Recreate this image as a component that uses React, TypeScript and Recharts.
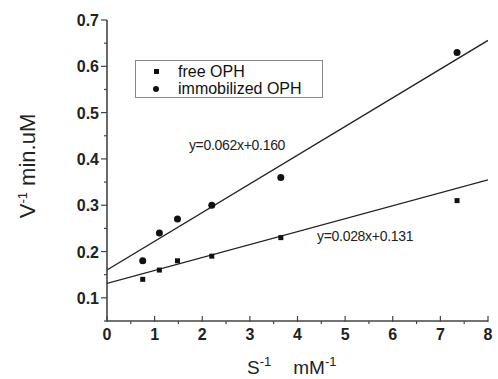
import React from 'react'
import { ComposedChart, Scatter, XAxis, YAxis, ReferenceDot } from 'recharts'

const FONT = '"Liberation Sans", Arial, sans-serif'

// 1/[S] in mM^-1
const sInv = [0.75, 1.1, 1.48, 2.2, 3.65, 7.35]
const freeOPH = [0.14, 0.16, 0.18, 0.19, 0.23, 0.31]
const immobilizedOPH = [0.18, 0.24, 0.27, 0.3, 0.36, 0.63]

// fitted lines, read at x = 0 and x = 8
const fitX = [0, 8]
const fitFree = [0.131, 0.355]
const fitImmobilized = [0.16, 0.656]

const xTicks = [0, 0.5, 1, 1.5, 2, 2.5, 3, 3.5, 4, 4.5, 5, 5.5, 6, 6.5, 7, 7.5, 8]
const xMajor = [0, 1, 2, 3, 4, 5, 6, 7, 8]
const yTicks = [0.05, 0.1, 0.15, 0.2, 0.25, 0.3, 0.35, 0.4, 0.45, 0.5, 0.55, 0.6, 0.65, 0.7]
const yMajor = ['0.1', '0.2', '0.3', '0.4', '0.5', '0.6', '0.7']

const toPoints = (xs: number[], ys: number[]) => xs.map((x, i) => ({ x, y: ys[i] }))

const freeData = toPoints(sInv, freeOPH)
const immData = toPoints(sInv, immobilizedOPH)
const freeFit = toPoints(fitX, fitFree)
const immFit = toPoints(fitX, fitImmobilized)

const AXIS = '#444'

function XTick(props: any) {
  const { x, y, payload } = props
  const major = xMajor.includes(payload.value)
  return (
    <g>
      <line x1={x} x2={x} y1={major ? y - 5 : y} y2={y + (major ? 1 : 3)} stroke={AXIS} strokeWidth={1.2} />
      {major && (
        <text x={x} y={y + 19} textAnchor="middle" fontFamily={FONT} fontSize={16} fontWeight="bold" fill="#222">
          {payload.value}
        </text>
      )}
    </g>
  )
}

function YTick(props: any) {
  const { x, y, payload } = props
  const txt = payload.value.toFixed(2)
  const label = txt.replace(/0$/, '')
  const major = txt.endsWith('0') && yMajor.includes(label)
  return (
    <g>
      <line x1={x - (major ? 6 : 3)} x2={x} y1={y} y2={y} stroke={AXIS} strokeWidth={1.2} />
      {major && (
        <text x={x - 8} y={y + 6} textAnchor="end" fontFamily={FONT} fontSize={16} fontWeight="bold" fill="#222">
          {label}
        </text>
      )}
    </g>
  )
}

const Square = (p: any) => <rect x={p.cx - 2.5} y={p.cy - 2.5} width={5} height={5} fill="#111" />
const Dot = (p: any) => <circle cx={p.cx} cy={p.cy} r={3.5} fill="#111" />
const NoShape = () => null

export default function App() {
  return (
    <div style={{ position: 'absolute', left: 0, top: 0, width: 498, height: 379, background: '#fff' }}>
      <ComposedChart width={498} height={379} margin={{ top: 20, right: 10, bottom: 0, left: 0 }}>
        <XAxis
          type="number"
          dataKey="x"
          domain={[0, 8]}
          ticks={xTicks}
          interval={0}
          height={58}
          tickSize={0}
          tickMargin={0}
          tickLine={false}
          axisLine={{ stroke: AXIS, strokeWidth: 1.6 }}
          tick={<XTick />}
          allowDataOverflow
          label={() => (
            <text x={247} y={374} fontFamily={FONT} fontSize={19} fill="#222">
              S<tspan dy={-8} fontSize={13}>-1</tspan>
              <tspan dx={22} dy={8}>mM</tspan>
              <tspan dy={-8} fontSize={13}>-1</tspan>
            </text>
          )}
        />
        <YAxis
          type="number"
          dataKey="y"
          domain={[0.05, 0.7]}
          ticks={yTicks}
          interval={0}
          width={107}
          tickSize={0}
          tickMargin={0}
          tickLine={false}
          axisLine={{ stroke: AXIS, strokeWidth: 1.6 }}
          tick={<YTick />}
          allowDataOverflow
          label={() => (
            <text
              x={35}
              y={166}
              transform="rotate(-90 35 166)"
              textAnchor="middle"
              fontFamily={FONT}
              fontSize={22}
              fill="#222"
            >
              V<tspan dy={-8} fontSize={13}>-1</tspan>
              <tspan dy={8}>{' min.uM'}</tspan>
            </text>
          )}
        />
        <Scatter data={immFit} line={{ stroke: '#222', strokeWidth: 1.3 }} shape={<NoShape />} isAnimationActive={false} />
        <Scatter data={freeFit} line={{ stroke: '#222', strokeWidth: 1.3 }} shape={<NoShape />} isAnimationActive={false} />
        <Scatter data={freeData} shape={<Square />} isAnimationActive={false} />
        <Scatter data={immData} shape={<Dot />} isAnimationActive={false} />
        <ReferenceDot
          x={2.73}
          y={0.43}
          r={0}
          stroke="none"
          label={{ value: 'y=0.062x+0.160', position: 'center', fontFamily: FONT, fontSize: 14, fill: '#222', letterSpacing: -0.3 }}
        />
        <ReferenceDot
          x={5.42}
          y={0.234}
          r={0}
          stroke="none"
          label={{ value: 'y=0.028x+0.131', position: 'center', fontFamily: FONT, fontSize: 14, fill: '#222', letterSpacing: -0.3 }}
        />
      </ComposedChart>
      <div
        style={{
          position: 'absolute',
          left: 135,
          top: 60,
          width: 188,
          height: 38,
          border: '1px solid #888',
          fontFamily: FONT,
          fontSize: 16,
          color: '#111',
          lineHeight: '17px',
          paddingTop: 2,
          boxSizing: 'border-box',
        }}
      >
        <div style={{ display: 'flex', alignItems: 'center' }}>
          <span style={{ display: 'inline-block', width: 5, height: 5, background: '#111', marginLeft: 18, marginRight: 19 }} />
          free OPH
        </div>
        <div style={{ display: 'flex', alignItems: 'center' }}>
          <span style={{ display: 'inline-block', width: 6, height: 6, borderRadius: 3, background: '#111', marginLeft: 17, marginRight: 19 }} />
          immobilized OPH
        </div>
      </div>
    </div>
  )
}
